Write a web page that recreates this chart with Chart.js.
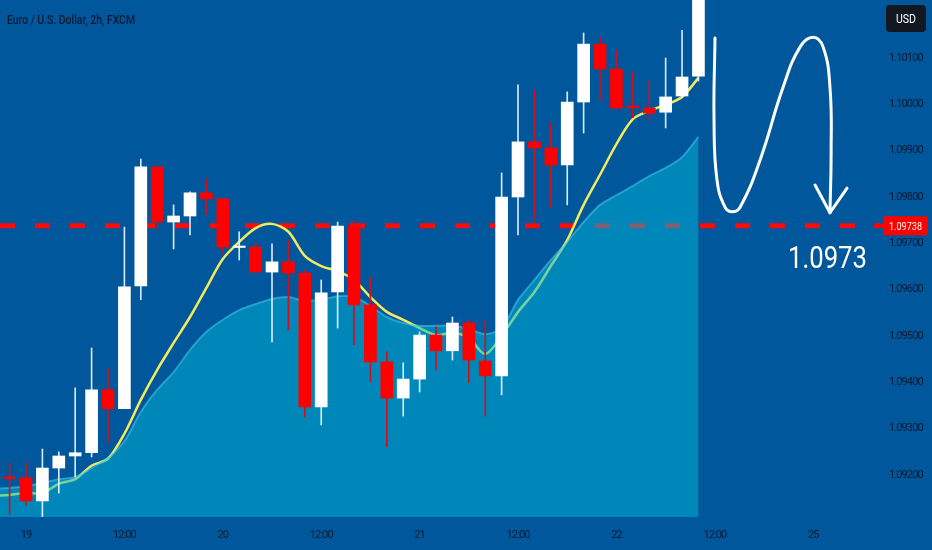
<!DOCTYPE html>
<html><head><meta charset="utf-8">
<script src="https://cdn.jsdelivr.net/npm/chart.js@4.4.0/dist/chart.umd.min.js"></script>
<style>html,body{margin:0;padding:0;background:#01579b;overflow:hidden}canvas{display:block}</style>
</head><body>
<canvas id="c" width="932" height="550"></canvas>
<script>
// ---- data (2h candles, index 0 = day 19 00:00) ----
const candleStart = -1;
const openP  = [1.09196,1.09194,1.09144,1.09215,1.09241,1.09248,1.09384,1.09343,1.09608,1.09865,1.09746,1.09759,1.09809,1.09796,1.09691,1.09692,1.09638,1.09660,1.09636,1.09347,1.09595,1.09737,1.09567,1.09444,1.09366,1.09407,1.09502,1.09468,1.09528,1.09446,1.09414,1.09800,1.09919,1.09906,1.09869,1.10005,1.10130,1.10076,1.09995,1.09992,1.09983,1.10018,1.10061];
const highP  = [1.09226,1.09226,1.09256,1.09250,1.09388,1.09474,1.09431,1.09735,1.09882,1.09866,1.09783,1.09811,1.09839,1.09797,1.09725,1.09703,1.09699,1.09707,1.09642,1.09621,1.09746,1.09750,1.09627,1.09466,1.09442,1.09509,1.09520,1.09541,1.09535,1.09535,1.09852,1.10042,1.10031,1.09960,1.10027,1.10154,1.10145,1.10117,1.10070,1.10053,1.10100,1.10160,1.10290];
const lowP   = [1.09115,1.09135,1.09105,1.09161,1.09196,1.09239,1.09271,1.09343,1.09578,1.09729,1.09688,1.09718,1.09761,1.09679,1.09664,1.09637,1.09487,1.09513,1.09325,1.09308,1.09517,1.09481,1.09401,1.09261,1.09327,1.09379,1.09427,1.09448,1.09399,1.09327,1.09373,1.09718,1.09750,1.09778,1.09783,1.09938,1.10009,1.09991,1.09971,1.09966,1.09949,1.10015,1.10050];
const closeP = [1.09192,1.09144,1.09215,1.09241,1.09248,1.09384,1.09343,1.09606,1.09865,1.09746,1.09759,1.09809,1.09796,1.09692,1.09693,1.09638,1.09660,1.09636,1.09347,1.09593,1.09737,1.09567,1.09444,1.09366,1.09407,1.09502,1.09468,1.09528,1.09448,1.09414,1.09800,1.09919,1.09906,1.09869,1.10005,1.10130,1.10076,1.09992,1.09993,1.09981,1.10016,1.10059,1.10270];

const lineStart = -2;
const emaLine  = [1.09155,1.09157,1.09161,1.09161,1.09181,1.09191,1.09220,1.09235,1.09289,1.09362,1.09427,1.09485,1.09541,1.09604,1.09666,1.09703,1.09733,1.09742,1.09725,1.09673,1.09651,1.09640,1.09621,1.09584,1.09552,1.09535,1.09517,1.09502,1.09507,1.09496,1.09461,1.09500,1.09552,1.09595,1.09651,1.09707,1.09783,1.09848,1.09914,1.09968,1.09986,1.09999,1.10016,1.10057];
const areaLine = [1.09170,1.09172,1.09176,1.09183,1.09191,1.09196,1.09215,1.09237,1.09273,1.09336,1.09384,1.09422,1.09470,1.09509,1.09535,1.09556,1.09569,1.09580,1.09584,1.09576,1.09578,1.09586,1.09584,1.09565,1.09541,1.09528,1.09522,1.09522,1.09522,1.09515,1.09504,1.09517,1.09578,1.09621,1.09664,1.09703,1.09746,1.09783,1.09804,1.09824,1.09845,1.09863,1.09886,1.09930];

const priceLevel = [1.09738];
const levelText = ['1.09738'];
const targetText = ['1.0973'];

const xTickPos    = [0,6,12,18,24,30,36,42,48];
const xTickLabels = ['19','12:00','20','12:00','21','12:00','22','12:00','25'];
const yTickValues = [1.092,1.093,1.094,1.095,1.096,1.097,1.098,1.099,1.100,1.101];

// hand-drawn projection curve (bar index, price)
const curveX = [42.01,41.95,42.13,42.62,43.05,43.54,44.76,46.16,47.20,47.99,48.60,49.02,49.09,49.02];
const curveY = [1.10143,1.09966,1.09837,1.09778,1.09768,1.09778,1.09880,1.10037,1.10124,1.10145,1.10124,1.10037,1.09895,1.09766];
const arrowX = [48.11,49.02,50.06];
const arrowY = [1.09826,1.09766,1.09819];

const X_MIN = -1.585, X_MAX = 52.07, Y_MIN = 1.091093, Y_MAX = 1.102252;

const FONT = 'Roboto, "Liberation Sans", sans-serif';
const LABEL_COLOR = '#0c1a31';

// ---- build datasets ----
const bodies = openP.map((o,i)=>({x: candleStart+i, y:[o, closeP[i]]}));
const wicks  = lowP.map((l,i)=>({x: candleStart+i, y:[l, highP[i]]}));
const up = openP.map((o,i)=> closeP[i] >= o);
const bodyColors = up.map(u => u ? '#ffffff' : '#ff0000');
const wickColors = up.map(u => u ? 'rgba(225,240,255,0.95)' : '#d0101e');
const emaData  = emaLine.map((v,i)=>({x: lineStart+i, y:v}));
const areaData = areaLine.map((v,i)=>({x: lineStart+i, y:v}));
const levelData = [{x:X_MIN, y:priceLevel[0]},{x:X_MAX, y:priceLevel[0]}];
const curveData = curveX.map((x,i)=>({x, y:curveY[i]}));
const arrowData = arrowX.map((x,i)=>({x, y:arrowY[i]}));

function squeezedText(c, text, x, y, width){
  const w = c.measureText(text).width;
  c.save(); c.translate(x, y); c.scale(width / w, 1); c.fillText(text, 0, 0); c.restore();
}

const decor = {
  id:'decor',
  beforeDraw(chart){
    const c = chart.ctx;
    c.save(); c.fillStyle = '#01579b'; c.fillRect(0,0,chart.width,chart.height); c.restore();
    try { c.letterSpacing = '-0.9px'; } catch(e) {}
  },
  afterDraw(chart){
    const c = chart.ctx, ys = chart.scales.y, area = chart.chartArea;
    c.save();
    try { c.letterSpacing = '0px'; } catch(e) {}
    // title
    c.fillStyle = LABEL_COLOR;
    c.font = '500 13px ' + FONT;
    c.textBaseline = 'alphabetic'; c.textAlign = 'left';
    squeezedText(c, 'Euro / U.S. Dollar, 2h, FXCM', 7, 24, 128);
    // USD box
    c.fillStyle = '#131722';
    c.beginPath();
    if (c.roundRect) c.roundRect(886,5,40,27,4); else c.rect(886,5,40,27);
    c.fill();
    c.fillStyle = '#ffffff'; c.font = '12px ' + FONT; c.textBaseline = 'alphabetic';
    squeezedText(c, 'USD', 896, 23, 20);
    // price label
    const ly = ys.getPixelForValue(priceLevel[0]);
    c.fillStyle = '#ff0000';
    c.fillRect(area.right - 7, ly - 2, 10, 4);
    c.fillRect(area.right + 3, ly - 9.5, 45, 19);
    c.fillStyle = '#ffffff'; c.font = '11px ' + FONT;
    squeezedText(c, levelText[0], area.right + 9, ly + 4, 33);
    // target label
    c.font = '32px ' + FONT;
    squeezedText(c, targetText[0], 788, ly + 42, 79);
    c.restore();
  }
};

new Chart(document.getElementById('c'), {
  type: 'bar',
  data: { datasets: [
    { type:'line', data: curveData, borderColor:'#ffffff', borderWidth:3, pointRadius:0, tension:0.45, fill:false, order:-2, borderCapStyle:'round' },
    { type:'line', data: arrowData, borderColor:'#ffffff', borderWidth:3, pointRadius:0, tension:0, fill:false, order:-1, borderCapStyle:'round', borderJoinStyle:'round' },
    { type:'bar', data: bodies, backgroundColor: bodyColors, borderWidth:0, barThickness:12, grouped:false, minBarLength:1.5, order:0 },
    { type:'bar', data: wicks, backgroundColor: wickColors, borderWidth:0, barThickness:1, grouped:false, order:1 },
    { type:'line', data: areaData, fill:'start', backgroundColor:'rgba(0,183,215,0.5)', borderColor:'rgba(80,205,240,0.5)', borderWidth:2, pointRadius:0, tension:0.3, order:2 },
    { type:'line', data: emaData, borderColor:'#f2ec5c', borderWidth:2.5, pointRadius:0, tension:0.3, fill:false, order:3 },
    { type:'line', data: levelData, borderColor:'#ff0a0a', borderWidth:5, borderDash:[15,20], pointRadius:0, fill:false, order:4 }
  ]},
  options: {
    responsive:false, animation:false, devicePixelRatio:1,
    layout:{ padding:0, autoPadding:false },
    plugins:{ legend:{display:false}, tooltip:{enabled:false}, title:{display:false} },
    scales:{
      x:{ type:'linear', min:X_MIN, max:X_MAX, offset:false,
          grid:{display:false, drawTicks:false}, border:{display:false},
          afterBuildTicks(s){ s.ticks = xTickPos.map(v=>({value:v})); },
          afterFit(s){ s.height = 33; s.paddingLeft = 0; s.paddingRight = 0; },
          ticks:{ color:LABEL_COLOR, font:{family:FONT, size:11}, padding:12, maxRotation:0, autoSkip:false,
                  callback(v){ const i = xTickPos.indexOf(v); return i>=0 ? xTickLabels[i] : ''; } } },
      y:{ type:'linear', position:'right', min:Y_MIN, max:Y_MAX,
          grid:{display:false, drawTicks:false}, border:{display:false},
          afterBuildTicks(s){ s.ticks = yTickValues.map(v=>({value:v})); },
          afterFit(s){ s.width = 52; s.paddingTop = 0; s.paddingBottom = 0; },
          ticks:{ color:LABEL_COLOR, font:{family:FONT, size:11}, padding:9,
                  callback(v){ return Number(v).toFixed(5); } } }
    }
  },
  plugins:[decor]
});
</script>
</body></html>
